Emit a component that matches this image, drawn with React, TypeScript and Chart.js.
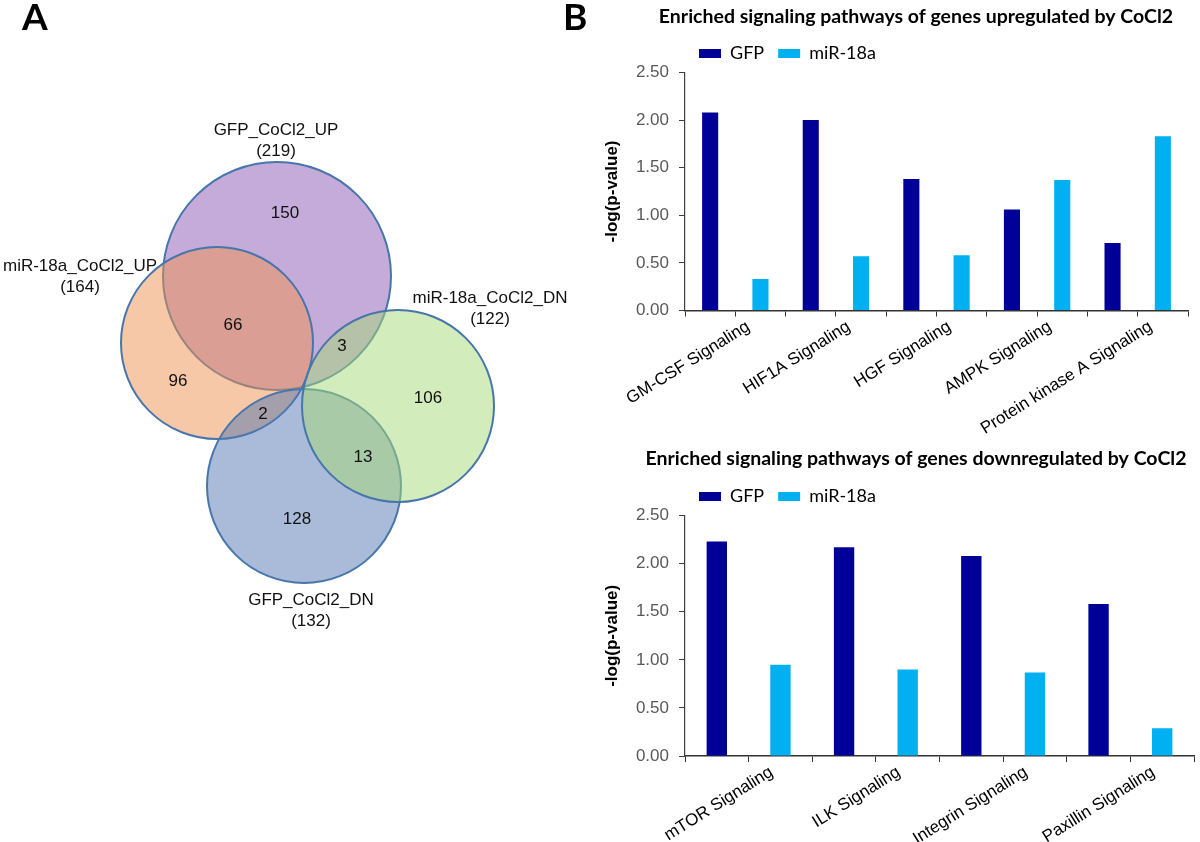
import React, { useEffect, useRef } from 'react';
import { Chart, registerables } from 'chart.js';
Chart.register(...registerables);

// ---------- Panel B data ----------
const seriesNames = ['GFP', 'miR-18a'];
const upTitle = 'Enriched signaling pathways of genes upregulated by CoCl2';
const upCategories = ['GM-CSF Signaling', 'HIF1A Signaling', 'HGF Signaling', 'AMPK Signaling', 'Protein kinase A Signaling'];
const upGFP = [2.08, 2.0, 1.38, 1.06, 0.71];
const upMiR = [0.33, 0.57, 0.58, 1.37, 1.83];
const downTitle = 'Enriched signaling pathways of genes downregulated by CoCl2';
const downCategories = ['mTOR Signaling', 'ILK Signaling', 'Integrin Signaling', 'Paxillin Signaling'];
const downGFP = [2.23, 2.17, 2.08, 1.58];
const downMiR = [0.95, 0.9, 0.87, 0.29];
const yAxisTitle = '-log(p-value)';
const yMin = 0;
const yMax = 2.5;
const yStep = 0.5;

// ---------- Panel A data ----------
const vennSetNames = ['GFP_CoCl2_UP', 'miR-18a_CoCl2_UP', 'GFP_CoCl2_DN', 'miR-18a_CoCl2_DN'];
const vennSetTotals = [219, 164, 132, 122];
const vennRegionCounts = [150, 66, 96, 3, 106, 2, 13, 128];
const panelLabels = ['A', 'B'];

// ---------- layout (data units of the Venn canvas scales) ----------
const VENN_CIRCLES = [
  { x: 277, y: 276, r: 114 },
  { x: 217, y: 343, r: 96 },
  { x: 304, y: 486, r: 97 },
  { x: 398, y: 406, r: 96 },
];
const VENN_SET_LABEL_POS = [
  { x: 276, y: 130 },
  { x: 80, y: 266 },
  { x: 311, y: 600 },
  { x: 490, y: 298 },
];
const VENN_REGION_POS = [
  { x: 285, y: 213 },
  { x: 233, y: 325 },
  { x: 178, y: 381 },
  { x: 342, y: 346 },
  { x: 428, y: 398 },
  { x: 263, y: 414 },
  { x: 363, y: 457 },
  { x: 297, y: 519 },
];
const PANEL_LABEL_POS = [
  { x: 22, y: 18 },
  { x: 563, y: 18 },
];
const VENN_FILLS = [
  'rgba(139,87,180,0.5)',
  'rgba(240,146,80,0.5)',
  'rgba(83,119,177,0.5)',
  'rgba(167,217,119,0.5)',
];
const VENN_STROKE = '#4676ab';
const GFP_COLOR = '#000099';
const MIR_COLOR = '#00B0F0';
const ARIAL = '"Liberation Sans", Arial, sans-serif';
const CALIBRI = 'Lato, "Noto Sans", sans-serif';

const vennTextPlugin = {
  id: 'vennText',
  afterDatasetsDraw(chart: any) {
    const { ctx } = chart;
    const sx = chart.scales.x;
    const sy = chart.scales.y;
    ctx.save();
    ctx.fillStyle = '#111';
    ctx.textAlign = 'center';
    ctx.textBaseline = 'middle';
    ctx.font = `17px ${ARIAL}`;
    vennRegionCounts.forEach((v, i) => {
      const p = VENN_REGION_POS[i];
      ctx.fillText(String(v), sx.getPixelForValue(p.x), sy.getPixelForValue(p.y));
    });
    vennSetNames.forEach((n, i) => {
      const p = VENN_SET_LABEL_POS[i];
      ctx.fillText(n, sx.getPixelForValue(p.x), sy.getPixelForValue(p.y));
      ctx.fillText(`(${vennSetTotals[i]})`, sx.getPixelForValue(p.x), sy.getPixelForValue(p.y + 21));
    });
    ctx.fillStyle = '#000';
    ctx.textAlign = 'left';
    ctx.font = `bold 37px ${CALIBRI}`;
    panelLabels.forEach((t, i) => {
      const p = PANEL_LABEL_POS[i];
      ctx.fillText(t, sx.getPixelForValue(p.x), sy.getPixelForValue(p.y));
    });
    ctx.restore();
  },
};

function vennConfig(): any {
  return {
    type: 'bubble',
    data: {
      datasets: [
        {
          label: 'sets',
          data: VENN_CIRCLES.map((c) => ({ x: c.x, y: c.y, r: c.r })),
          backgroundColor: VENN_FILLS,
          borderColor: VENN_STROKE,
          borderWidth: 2,
        },
      ],
    },
    options: {
      animation: false,
      responsive: false,
      events: [],
      layout: { padding: 0, autoPadding: false },
      plugins: { legend: { display: false }, tooltip: { enabled: false } },
      scales: {
        x: { type: 'linear', min: 0, max: 590, display: false },
        y: { type: 'linear', min: 0, max: 842, reverse: true, display: false },
      },
    },
    plugins: [vennTextPlugin],
  };
}

function barConfig(
  cats: string[],
  gfp: number[],
  mir: number[],
  title: string,
  titlePad: { top: number; bottom: number },
  rightGap: number,
  labelOffset: number
): any {
  return {
    type: 'bar',
    data: {
      datasets: [
        {
          label: seriesNames[0],
          data: cats.map((_, i) => ({ x: i, y: gfp[i] })),
          backgroundColor: GFP_COLOR,
          barPercentage: 0.32,
          categoryPercentage: 2,
        },
        {
          label: seriesNames[1],
          data: cats.map((_, i) => ({ x: i, y: mir[i] })),
          backgroundColor: MIR_COLOR,
          barPercentage: 0.32,
          categoryPercentage: 2,
        },
      ],
    },
    options: {
      animation: false,
      responsive: false,
      events: [],
      layout: { padding: 0 },
      plugins: {
        title: {
          display: true,
          text: title,
          color: '#000',
          font: { family: CALIBRI, weight: 'bold', size: 19.5 },
          padding: titlePad,
        },
        legend: {
          display: true,
          align: 'start',
          fullSize: false,
          labels: {
            boxWidth: 22,
            boxHeight: 9,
            color: '#000',
            font: { family: CALIBRI, size: 18 },
            padding: 14,
          },
        },
        tooltip: { enabled: false },
      },
      scales: {
        x: {
          type: 'linear',
          min: -0.5,
          max: cats.length - 0.5,
          offset: false,
          grid: { display: true, drawOnChartArea: false, drawTicks: true, tickLength: 6, color: '#333', offset: false },
          border: { color: '#333', width: 1.5 },
          ticks: {
            stepSize: 0.5,
            autoSkip: false,
            maxRotation: 32,
            minRotation: 32,
            labelOffset: labelOffset,
            color: '#000',
            font: { family: ARIAL, size: 17 },
            padding: 0,
            callback: (v: number) => {
              const r = Math.round(v);
              return Math.abs(v - r) < 1e-6 && r >= 0 && r < cats.length ? cats[r] : '';
            },
          },
        },
        y: {
          type: 'linear',
          position: 'left',
          min: yMin,
          max: yMax,
          grid: { display: true, drawOnChartArea: false, drawTicks: true, tickLength: 6, color: '#404040' },
          border: { color: '#404040', width: 1.2 },
          ticks: {
            stepSize: yStep,
            color: '#595959',
            font: { family: ARIAL, size: 17 },
            padding: 10,
            callback: (v: number) => v.toFixed(2),
          },
          title: {
            display: true,
            text: yAxisTitle,
            color: '#000',
            font: { family: ARIAL, weight: 'bold', size: 17 },
            padding: { top: 12, bottom: 4 },
          },
          afterFit: (s: any) => {
            s.width = 95;
          },
        },
        yRight: {
          type: 'linear',
          position: 'right',
          display: true,
          grid: { display: false },
          border: { display: false },
          ticks: { display: false },
          afterFit: (s: any) => {
            s.width = rightGap;
          },
        },
      },
    },
  };
}

export default function App() {
  const vennRef = useRef<HTMLCanvasElement>(null);
  const upRef = useRef<HTMLCanvasElement>(null);
  const downRef = useRef<HTMLCanvasElement>(null);

  useEffect(() => {
    const charts = [
      new Chart(vennRef.current!, vennConfig()),
      new Chart(upRef.current!, barConfig(upCategories, upGFP, upMiR, upTitle, { top: 5, bottom: 2 }, 54, 13)),
      new Chart(downRef.current!, barConfig(downCategories, downGFP, downMiR, downTitle, { top: 6.6, bottom: 3.6 }, 48, 23)),
    ];
    return () => charts.forEach((c) => c.destroy());
  }, []);

  return (
    <div style={{ position: 'absolute', left: 0, top: 0, width: 1200, height: 842, overflow: 'hidden', background: '#fff' }}>
      <canvas ref={vennRef} width={590} height={842} style={{ position: 'absolute', left: 0, top: 0 }} />
      <canvas ref={upRef} width={652} height={439} style={{ position: 'absolute', left: 590, top: 0 }} />
      <canvas ref={downRef} width={652} height={409} style={{ position: 'absolute', left: 590, top: 440 }} />
    </div>
  );
}
